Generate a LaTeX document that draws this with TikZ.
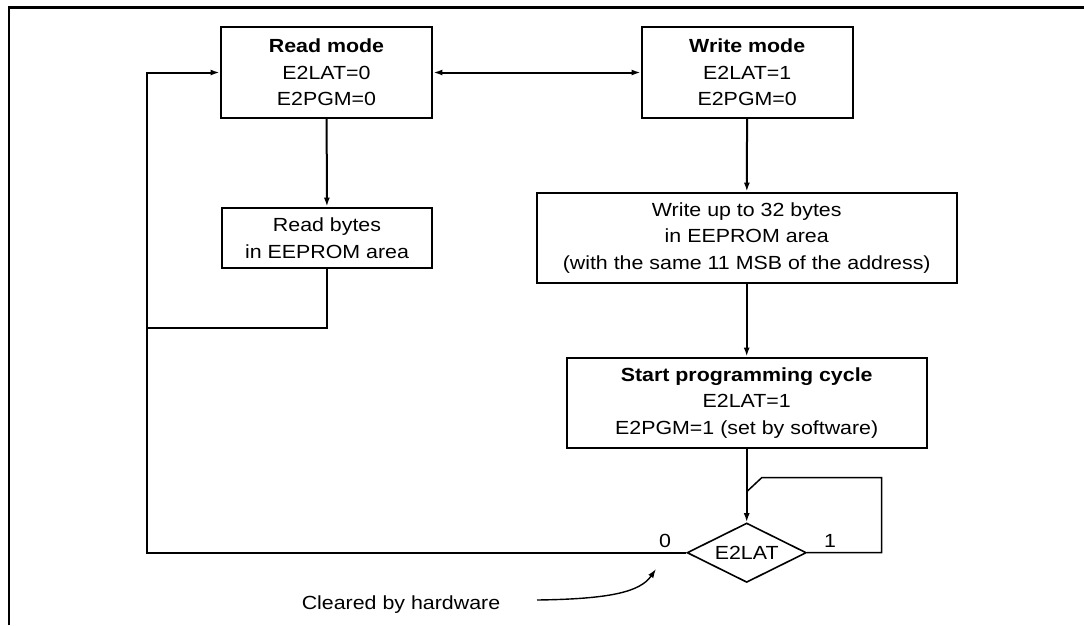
\documentclass[tikz,border=0pt]{standalone}
\usepackage{fontspec}
\setmainfont{Liberation Sans}[FakeStretch=1.125]
\usetikzlibrary{arrows.meta,shapes.geometric}
\begin{document}
\begin{tikzpicture}[x=1pt,y=1pt,
  box/.style={draw,line width=2.2pt,rectangle,inner sep=0pt,align=center,font=\fontsize{19}{26.5}\selectfont},
  lbl/.style={inner sep=0pt,font=\fontsize{19}{26.5}\selectfont},
  conn/.style={line width=2pt},
  arr/.style={line width=2pt,-{Latex[length=9pt,width=6pt]}},
  darr/.style={line width=2pt,{Latex[length=9pt,width=6pt]}-{Latex[length=9pt,width=6pt]}},
  thinconn/.style={line width=1.5pt}]
\useasboundingbox (0,0) rectangle (1084,-625);
% frame
\draw[line width=2.4pt] (9,-625) -- (9,-7.5) -- (1084,-7.5);
% nodes
\node[box,minimum width=211.6pt,minimum height=90.4pt] (read) at (326.5,-72.5)
  {\textbf{Read mode}\\E2LAT=0\\E2PGM=0};
\node[box,minimum width=211pt,minimum height=90.4pt] (write) at (747.2,-72.5)
  {\textbf{Write mode}\\E2LAT=1\\E2PGM=0};
\node[box,minimum width=210.6pt,minimum height=60.6pt] (rb) at (327,-238)
  {Read bytes\\in EEPROM area};
\node[box,minimum width=420pt,minimum height=90pt] (wb) at (746.7,-237.7)
  {Write up to 32 bytes\\in EEPROM area\\(with the same 11 MSB of the address)};
\node[box,minimum width=360pt,minimum height=90pt] (start) at (746.7,-402.7)
  {\textbf{Start programming cycle}\\E2LAT=1\\E2PGM=1 (set by software)};
\node[draw,line width=1.6pt,diamond,aspect=2,inner sep=0pt,minimum width=119.3pt,minimum height=59.4pt,
  font=\fontsize{19}{26.5}\selectfont] (dia) at (746.7,-552.7) {E2LAT};
\node[lbl] (zero) at (665,-541) {0};
\node[lbl] (one) at (830,-541) {1};
\node[lbl] (clr) at (401,-605) {Cleared by hardware};
% coordinates
\coordinate (lc) at (146.7,-552.7);
\coordinate (lj) at (146.7,-327.7);
\coordinate (sr) at (881.7,-552.7);
\coordinate (st) at (761.7,-477.7);
\coordinate (sj) at (746.7,-491.7);
\coordinate (cs) at (537,-600);
\coordinate (ce) at (656,-569);
% connectors
\draw[darr] (read.east) -- (write.west);
\draw[arr] (read) -- (rb);
\draw[arr] (write) -- (wb);
\draw[arr] (wb) -- (start);
\draw[arr] (start) -- (dia.north);
\draw[conn] (rb.south) |- (lj);
\draw[arr] (dia.west) -- (lc) |- (read.west);
\draw[thinconn] (dia.east) -- (sr) |- (st) -- (sj);
\draw[line width=1.4pt,-{Latex[length=9pt,width=6pt]}] (cs) .. controls (610,-599) and (640,-592) .. (ce);
\end{tikzpicture}
\end{document}
